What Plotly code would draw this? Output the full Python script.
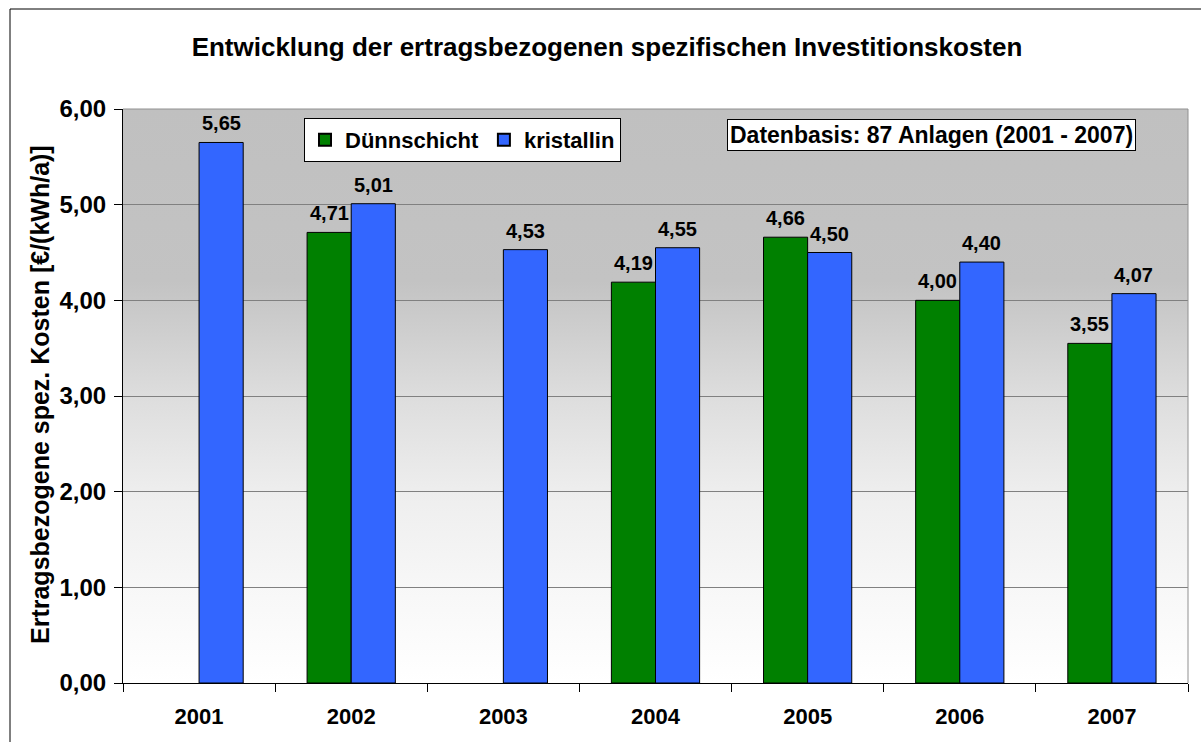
import base64
import plotly.graph_objects as go

# Data: specific investment costs per annual yield, by year and technology
years = ["2001", "2002", "2003", "2004", "2005", "2006", "2007"]
duennschicht = [None, 4.71, None, 4.19, 4.66, 4.00, 3.55]
kristallin = [5.65, 5.01, 4.53, 4.55, 4.50, 4.40, 4.07]

y_ticks = [0, 1, 2, 3, 4, 5, 6]

FONT = "Liberation Sans, Arial, sans-serif"
W, H = 1201, 742
L, R, T, B = 123, 13, 109, 59
PW, PH = W - L - R, H - T - B

BAR_W = 0.29  # bar width in category units


def px_x(x):
    return (x - L) / PW


def px_y(y):
    return (H - B - y) / PH


# vertical grey-to-white gradient for the plot area background
svg = (
    '<svg xmlns="http://www.w3.org/2000/svg" width="100" height="100" preserveAspectRatio="none">'
    '<defs><linearGradient id="g" x1="0" y1="0" x2="0" y2="1">'
    '<stop offset="0" stop-color="#C0C0C0"/>'
    '<stop offset="0.30" stop-color="#C3C3C3"/>'
    '<stop offset="0.50" stop-color="#DDDDDD"/>'
    '<stop offset="0.67" stop-color="#EEEEEE"/>'
    '<stop offset="0.83" stop-color="#F7F7F7"/>'
    '<stop offset="1" stop-color="#FFFFFF"/>'
    '</linearGradient></defs>'
    '<rect width="100" height="100" fill="url(#g)"/></svg>'
)
svg_uri = "data:image/svg+xml;base64," + base64.b64encode(svg.encode()).decode()

label_font = dict(family=FONT, size=20, color="black", weight="bold")

series = [
    ("Dünnschicht", duennschicht, "#008000", -BAR_W),
    ("kristallin", kristallin, "#3366FF", 0.0),
]

fig = go.Figure()
value_labels = []
for name, values, color, offset in series:
    fig.add_trace(go.Bar(
        name=name, x=years, y=values, width=BAR_W, offset=offset,
        marker=dict(color=color, line=dict(color="black", width=1)),
    ))
    # value labels above each bar
    for i, v in enumerate(values):
        if v is None:
            continue
        value_labels.append(dict(
            x=i + offset + BAR_W / 2, y=v, xref="x", yref="y",
            text=f"{v:.2f}".replace(".", ","), showarrow=False,
            xanchor="center", yanchor="bottom", yshift=6, font=label_font,
        ))

fig.update_layout(
    width=W, height=H,
    margin=dict(l=L, r=R, t=T, b=B),
    paper_bgcolor="white",
    plot_bgcolor="rgba(0,0,0,0)",
    separators=",.",
    barmode="overlay",
    font=dict(family=FONT, color="black"),
    title=dict(
        text="Entwicklung der ertragsbezogenen spezifischen Investitionskosten",
        font=dict(family=FONT, size=26, color="black", weight="bold"),
        x=607 / W, xanchor="center", xref="container",
        y=1 - 47 / H, yanchor="middle", yref="container",
    ),
    legend=dict(
        orientation="h", x=px_x(304), y=px_y(118), xanchor="left", yanchor="top",
        bgcolor="white", bordercolor="black", borderwidth=1,
        font=dict(family=FONT, size=22, color="black", weight="bold"),
        itemsizing="constant", traceorder="normal", itemwidth=30,
    ),
    xaxis=dict(
        type="category", tickson="boundaries", ticks="outside", ticklen=8,
        tickcolor="black", showline=True, linecolor="black", linewidth=1,
        showgrid=False, ticklabelstandoff=14,
        tickfont=dict(family=FONT, size=22, color="black", weight="bold"),
    ),
    yaxis=dict(
        range=[0, 6], tickvals=y_ticks, tickformat=".2f", ticks="outside",
        ticklen=8, tickcolor="black", showline=True, linecolor="black",
        linewidth=1, showgrid=True, gridcolor="#808080", gridwidth=1,
        zeroline=False, ticklabelstandoff=3,
        tickfont=dict(family=FONT, size=24, color="black", weight="bold"),
    ),
    images=[dict(
        source=svg_uri, xref="paper", yref="paper", x=0, y=1,
        sizex=1, sizey=1, sizing="stretch", layer="below",
        xanchor="left", yanchor="top",
    )],
    shapes=[
        # outer chart frame
        dict(type="rect", xref="paper", yref="paper",
             x0=px_x(10), x1=px_x(1215), y0=px_y(760), y1=px_y(9),
             line=dict(color="black", width=1), fillcolor="rgba(0,0,0,0)",
             layer="above"),
        # grey plot-area edges at top and right
        dict(type="line", xref="paper", yref="paper", x0=0, x1=1, y0=1, y1=1,
             line=dict(color="#909090", width=1)),
        dict(type="line", xref="paper", yref="paper", x0=1, x1=1, y0=0, y1=1,
             line=dict(color="#909090", width=1)),
    ],
    annotations=value_labels + [
        dict(
            text="Datenbasis: 87 Anlagen (2001 - 2007)",
            xref="paper", yref="paper", x=px_x(931), y=px_y(135),
            xanchor="center", yanchor="middle", showarrow=False,
            bgcolor="white", bordercolor="black", borderwidth=1, borderpad=2,
            font=dict(family=FONT, size=23, color="black", weight="bold"),
        ),
        dict(
            text="Ertragsbezogene spez. Kosten [€/(kWh/a)]",
            xref="paper", yref="paper", x=px_x(40), y=px_y(395),
            xanchor="center", yanchor="middle", textangle=-90, showarrow=False,
            font=dict(family=FONT, size=25, color="black", weight="bold"),
        ),
    ],
)

fig.write_html("out.html")
